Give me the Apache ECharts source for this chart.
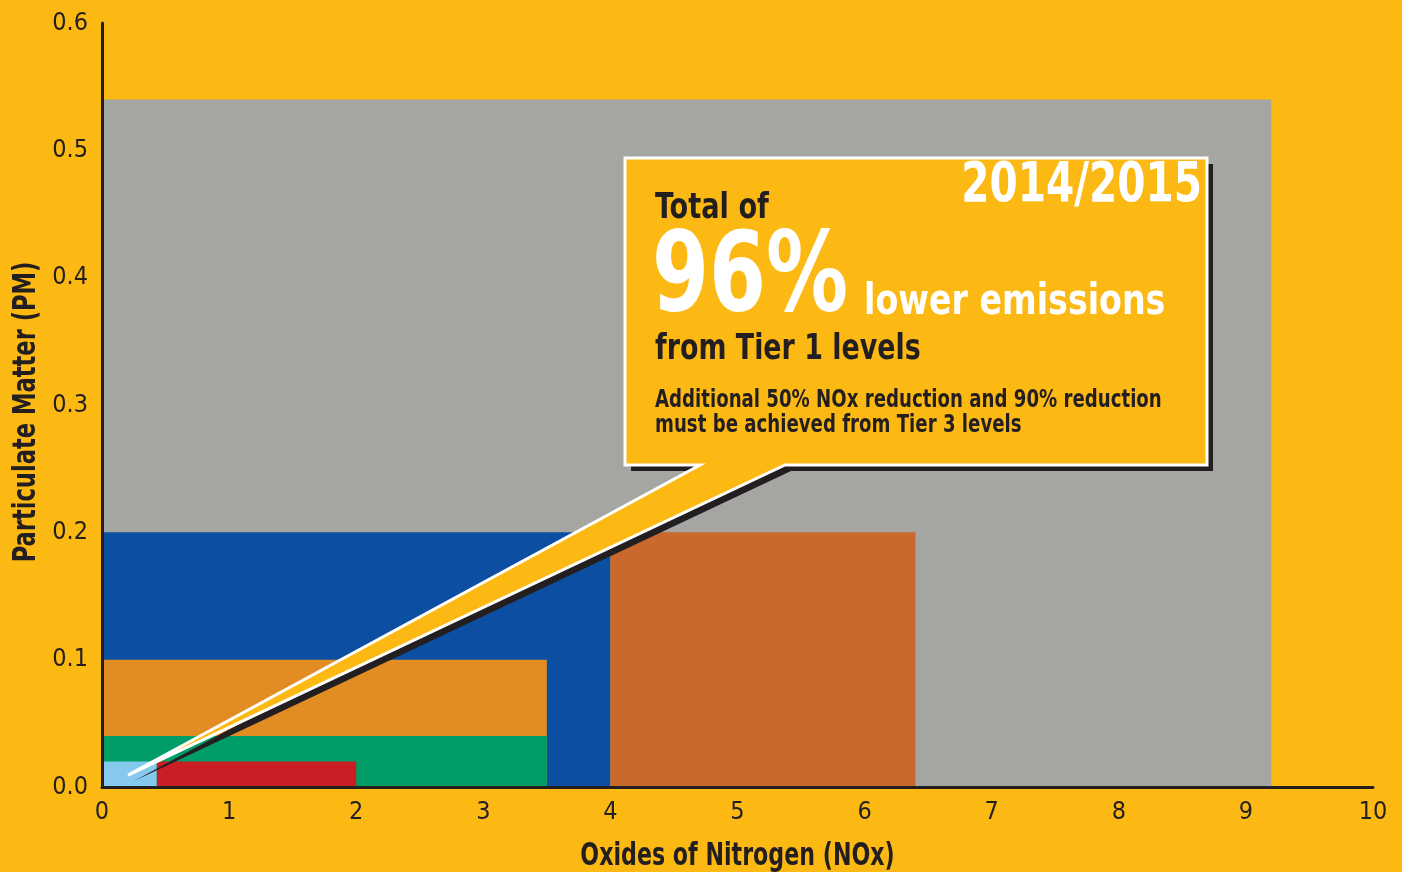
<!DOCTYPE html>
<html>
<head>
<meta charset="utf-8">
<script src="https://cdn.jsdelivr.net/npm/echarts@6/dist/echarts.min.js"></script>
<style>
  html, body { margin: 0; padding: 0; background: #FDB913; }
  #chart { width: 1402px; height: 872px; }
</style>
</head>
<body>
<div id="chart"></div>
<script>
// ---- data ----
const zoneNames = ['Tier 1', 'Tier 2', 'Tier 2 (alt)', 'Tier 3', 'Tier 4 interim', 'Tier 4 final (alt)', 'Tier 4 final'];
const noxStart  = [0,    0,   4.0, 0,   0,    0.43, 0];
const noxEnd    = [9.2,  4.0, 6.4, 3.5, 3.5,  2.0,  0.43];
const pmLimit   = [0.54, 0.2, 0.2, 0.1, 0.04, 0.02, 0.02];
const xTicks = [0, 1, 2, 3, 4, 5, 6, 7, 8, 9, 10];
const yTicks = [0.0, 0.1, 0.2, 0.3, 0.4, 0.5, 0.6];
const xTitle = 'Oxides of Nitrogen (NOx)';
const yTitle = 'Particulate Matter (PM)';
const callTexts = {
  year: '2014/2015',
  lead: 'Total of',
  big: '96%',
  bigTail: 'lower emissions',
  line2: 'from Tier 1 levels',
  note1: 'Additional 50% NOx reduction and 90% reduction',
  note2: 'must be achieved from Tier 3 levels'
};
// callout anchor (data coords): box corners, pointer base and tip
const calloutBox = [4.115, 0.494, 8.694, 0.2529];
const pointerBase = [4.705, 5.374];
const pointerTip = [0.205, 0.0094];

// ---- styles ----
const zoneColors = ['#A5A5A2', '#0C4EA2', '#C9692C', '#E28C24', '#009D66', '#C81E24', '#86C9EE'];
const FONT = "'DejaVu Sans Condensed', 'Liberation Sans Narrow', sans-serif";
const INK = '#231F20';
const YELLOW = '#FDB913';

const chart = echarts.init(document.getElementById('chart'));

function zoneItem(params, api) {
  const x0 = api.value(0), x1 = api.value(1), top = api.value(2);
  const p0 = api.coord([x0, top]);
  const p1 = api.coord([x1, 0]);
  return {
    type: 'rect',
    shape: { x: p0[0], y: p0[1], width: p1[0] - p0[0], height: p1[1] - p0[1] },
    style: { fill: zoneColors[params.dataIndex] }
  };
}

// condensed bold text: x,y = left (or right) edge and cap middle
function ctext(text, x, y, size, fill, sx, align, rot) {
  return {
    type: 'text',
    x: x, y: y + 0.085 * size,
    scaleX: sx,
    rotation: rot || 0,
    style: {
      text: text, x: 0, y: 0,
      fill: fill, fontSize: size, fontWeight: 'bold', fontFamily: FONT,
      align: align || 'left', verticalAlign: 'middle'
    }
  };
}

function calloutItem(params, api) {
  const tl = api.coord([calloutBox[0], calloutBox[1]]);
  const br = api.coord([calloutBox[2], calloutBox[3]]);
  const bl = api.coord([pointerBase[0], calloutBox[3]]);
  const brr = api.coord([pointerBase[1], calloutBox[3]]);
  const tip = api.coord(pointerTip);
  const pts = [
    [tl[0], tl[1]], [br[0], tl[1]], [br[0], br[1]],
    [brr[0], br[1]], [tip[0], tip[1]], [bl[0], br[1]], [tl[0], br[1]]
  ];
  const sh = 6;
  const shadowPts = pts.map(p => [p[0] + sh, p[1] + sh]);
  const X = tl[0], Y = tl[1];
  return {
    type: 'group',
    children: [
      { type: 'polygon', shape: { points: shadowPts }, style: { fill: INK } },
      { type: 'polygon', shape: { points: pts }, style: { fill: YELLOW, stroke: '#FFFFFF', lineWidth: 3, lineJoin: 'miter' } },
      ctext(callTexts.year, X + 577, Y + 24, 55, '#FFFFFF', 0.82, 'right'),
      ctext(callTexts.lead, X + 30, Y + 48, 36, INK, 0.84),
      ctext(callTexts.big, X + 27, Y + 114, 111, '#FFFFFF', 0.82),
      ctext(callTexts.bigTail, X + 239, Y + 142, 42, '#FFFFFF', 0.88),
      ctext(callTexts.line2, X + 30, Y + 189, 36, INK, 0.83),
      ctext(callTexts.note1, X + 30, Y + 240, 25, INK, 0.807),
      ctext(callTexts.note2, X + 30, Y + 265, 25, INK, 0.807)
    ]
  };
}

function titlesItem(params, api) {
  const o = api.coord([0, 0]);
  const e = api.coord([10, 0.6]);
  const cx = (o[0] + e[0]) / 2;
  const cy = (o[1] + e[1]) / 2 + 7;
  return {
    type: 'group',
    children: [
      ctext(xTitle, cx, o[1] + 67, 32, INK, 0.77, 'center'),
      {
        type: 'text', x: o[0] - 78 + 0.085 * 32, y: cy, rotation: Math.PI / 2, scaleX: 0.785,
        style: { text: yTitle, x: 0, y: 0, fill: INK, fontSize: 32, fontWeight: 'bold', fontFamily: FONT, align: 'center', verticalAlign: 'middle' }
      }
    ]
  };
}

const option = {
  backgroundColor: YELLOW,
  animation: false,
  grid: { left: 102, right: 29, top: 23, bottom: 85, containLabel: false, outerBoundsMode: 'none' },
  xAxis: {
    type: 'value', min: xTicks[0], max: xTicks[xTicks.length - 1], interval: 1,
    z: 5,
    axisLine: { lineStyle: { color: INK, width: 3 } },
    axisTick: { show: false },
    splitLine: { show: false },
    axisLabel: { fontFamily: FONT, fontSize: 25, color: INK, margin: 13 }
  },
  yAxis: {
    type: 'value', min: yTicks[0], max: yTicks[yTicks.length - 1], interval: 0.1,
    z: 5,
    axisLine: { show: true, lineStyle: { color: INK, width: 3 } },
    axisTick: { show: false },
    splitLine: { show: false },
    axisLabel: { fontFamily: FONT, fontSize: 25, color: INK, margin: 14, formatter: v => v.toFixed(1) }
  },
  series: [
    {
      type: 'custom',
      name: 'zones',
      renderItem: zoneItem,
      data: zoneNames.map((n, i) => ({ name: n, value: [noxStart[i], noxEnd[i], pmLimit[i]] })),
      encode: { x: [0, 1], y: 2 },
      clip: false,
      z: 2,
      silent: true
    },
    {
      type: 'custom',
      name: 'callout',
      renderItem: calloutItem,
      data: [[pointerTip[0], pointerTip[1]]],
      encode: { x: 0, y: 1 },
      clip: false,
      z: 10,
      silent: true
    },
    {
      type: 'custom',
      name: 'titles',
      renderItem: titlesItem,
      data: [[0, 0]],
      encode: { x: 0, y: 1 },
      clip: false,
      z: 10,
      silent: true
    }
  ]
};
chart.setOption(option);
</script>
</body>
</html>
